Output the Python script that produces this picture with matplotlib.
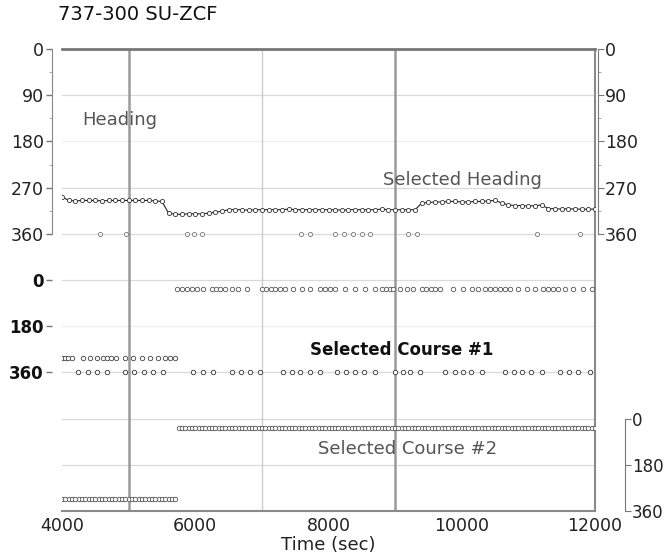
import numpy as np
import matplotlib
matplotlib.use('Agg')
import matplotlib.pyplot as plt

# ---- data (time in sec, angles in deg) ----
heading_t = list(range(4000, 12001, 100))
heading = [288,
           295, 296, 295, 295, 295, 296, 295, 295, 295, 295, 295, 295, 295, 296,
           297, 320,
           322, 322, 321, 321, 321, 320, 318, 316,
           313, 313, 313, 314, 313, 313, 313, 313, 313, 312, 313, 313, 313, 313, 313,
           313, 313, 314, 313, 313, 313, 313, 313, 312, 313, 313, 313, 313, 313,
           300, 299, 298, 298, 297, 297, 298, 298, 297, 297, 296, 295,
           300, 304, 305, 305, 306, 305, 304,
           311, 311, 312, 311, 312, 312, 312, 312]

# isolated heading samples at 360
hdg360_t = [4570, 4960, 5880, 5980, 6100, 7590, 7720, 8100, 8230, 8370, 8500,
            8620, 9190, 9330, 11130, 11780]

# selected course #1
crs1_hi_t = [5730, 5800, 5880, 5950, 6030, 6120, 6250, 6310, 6370, 6450,
             6550, 6640, 6780, 7000, 7060, 7140, 7200, 7270, 7350, 7470, 7600,
             7720, 7870, 7950, 8020, 8100, 8250, 8400, 8550, 8700, 8800, 8860,
             8920, 8970, 9070, 9180, 9270, 9400, 9460, 9540, 9600, 9670, 9870,
             10020, 10150, 10240, 10350, 10420, 10500, 10570, 10650, 10720,
             10840, 10980, 11100, 11220, 11300, 11370, 11450, 11550, 11670,
             11820, 11960]
crs1_hi = 36
crs1_mid_t = [4000, 4050, 4090, 4150, 4320, 4420, 4530, 4620, 4680, 4740,
              4810, 4950, 5070, 5200, 5320, 5440, 5550, 5620, 5700]
crs1_mid = 302
crs1_low_t = [4240, 4390, 4530, 4680, 4950, 5080, 5230, 5370, 5520, 5970,
              6120, 6270, 6550, 6690, 6820, 6970, 7320, 7450, 7570, 7720, 7870,
              8130, 8260, 8400, 8530, 8700, 9000, 9120, 9220, 9370, 9750, 9900,
              10020, 10140, 10300, 10650, 10780, 10900, 11040, 11200, 11470,
              11610, 11750, 11920]
crs1_low = 360

# selected course #2 (sampled every 50 s)
crs2_a_t = np.arange(4000, 5701, 50)
crs2_a = 312
crs2_b_t = np.arange(5750, 12001, 50)
crs2_b = 36


def hdg_y(d):
    return np.asarray(d) / 90.0


def crs1_y(d):
    return 5 + np.asarray(d) / 180.0


def crs2_y(d):
    return 8 + np.asarray(d) / 180.0


plt.rcParams['font.family'] = 'DejaVu Sans'
fig = plt.figure(figsize=(6.7, 5.56), dpi=100)
ax = fig.add_axes([62 / 670, 1 - 511 / 556, (595 - 62) / 670, (511 - 49) / 556])
ax.set_xlim(4000, 12000)
ax.set_ylim(10, 0)

# grid
for yv in [1, 3, 4, 5, 7, 8, 9]:
    ax.axhline(yv, color='#dadada', lw=0.9, zorder=0)
for yv in [2, 6]:
    ax.axhline(yv, color='#efefef', lw=0.9, zorder=0)
ax.axvline(7000, color='#cccccc', lw=1.0, zorder=0)
for xv in [5000, 9000]:
    ax.axvline(xv, color='#9a9a9a', lw=1.8, zorder=0)

# heading
ax.plot(heading_t, hdg_y(heading), color='#222222', lw=0.8, marker='o', ms=3,
        mfc='white', mec='#333333', mew=0.6, zorder=3)
ax.plot(hdg360_t, hdg_y([360] * len(hdg360_t)), ls='none', marker='o', ms=3,
        mfc='white', mec='#777777', mew=0.6, zorder=3)

# course 1
mk = dict(ls='none', marker='o', ms=3.2, mfc='white', mew=0.6, zorder=3)
ax.plot(crs1_hi_t, crs1_y([crs1_hi] * len(crs1_hi_t)), mec='#555555', **mk)
ax.plot(crs1_mid_t, crs1_y([crs1_mid] * len(crs1_mid_t)), mec='#444444', **mk)
ax.plot(crs1_low_t, crs1_y([crs1_low] * len(crs1_low_t)), mec='#333333', **mk)

# course 2
ax.plot(crs2_a_t, crs2_y([crs2_a] * len(crs2_a_t)), mec='#555555', **mk)
ax.plot(crs2_b_t, crs2_y([crs2_b] * len(crs2_b_t)), mec='#555555', **mk)

# labels inside plot
ax.text(4300, 1.54, 'Heading', fontsize=13, color='#555555', va='center')
ax.text(8820, 2.84, 'Selected Heading', fontsize=13, color='#555555', va='center')
ax.text(7720, 6.52, 'Selected Course #1', fontsize=12, fontweight='bold',
        color='#111111', va='center')
ax.text(7840, 8.66, 'Selected Course #2', fontsize=13, color='#555555', va='center')

# frame
for s in ['top', 'right', 'bottom']:
    ax.spines[s].set_color('#8a8a8a')
    ax.spines[s].set_linewidth(1.5)
ax.spines['top'].set_color('#777777')
ax.spines['top'].set_linewidth(2)
ax.spines['left'].set_position(('outward', 7.2))
ax.spines['left'].set_bounds(0, 4)
ax.spines['left'].set_color('#888888')

# x axis
ax.set_xticks([4000, 6000, 8000, 10000, 12000])
ax.tick_params(axis='x', length=0, labelsize=12.5, labelcolor='#222222', pad=4)
ax.set_xlabel('Time (sec)', fontsize=13, color='#222222', labelpad=1)

# left axis (heading + course #1)
ax.set_yticks([0, 1, 2, 3, 4, 5, 6, 7])
ax.set_yticklabels(['0', '90', '180', '270', '360', '0', '180', '360'])
ax.set_yticks([0.5, 1.5, 2.5, 3.5], minor=True)
ax.tick_params(axis='y', which='major', length=4, width=1, color='#777777',
               labelsize=12.5, labelcolor='#222222', pad=2)
ax.tick_params(axis='y', which='minor', length=2.5, color='#999999')
for i, lab in enumerate(ax.get_yticklabels()):
    if i >= 5:
        lab.set_fontweight('bold')
        lab.set_fontsize(12)
        lab.set_color('#111111')

# right axis (heading)
axr = ax.twinx()
axr.set_ylim(10, 0)
for s in ['top', 'left', 'bottom']:
    axr.spines[s].set_visible(False)
axr.spines['right'].set_position(('outward', 2.2))
axr.spines['right'].set_bounds(0, 4)
axr.spines['right'].set_color('#777777')
axr.set_yticks([0, 1, 2, 3, 4])
axr.set_yticklabels(['0', '90', '180', '270', '360'])
axr.set_yticks([0.5, 1.5, 2.5, 3.5], minor=True)
axr.tick_params(axis='y', which='major', length=4, color='#777777',
                labelsize=12.5, labelcolor='#222222', pad=1)
axr.tick_params(axis='y', which='minor', length=2.5, color='#999999')

# bottom right axis (course #2)
axr2 = ax.twinx()
axr2.set_ylim(10, 0)
for s in ['top', 'left', 'bottom']:
    axr2.spines[s].set_visible(False)
axr2.spines['right'].set_position(('outward', 21.6))
axr2.spines['right'].set_bounds(8, 10)
axr2.spines['right'].set_color('#777777')
axr2.set_yticks([8, 9, 10])
axr2.set_yticklabels(['0', '180', '360'])
axr2.tick_params(axis='y', length=4, color='#777777', labelsize=12,
                 labelcolor='#222222', pad=1)

fig.text(58 / 670, 1 - 14 / 556, '737-300 SU-ZCF', fontsize=14,
         color='#111111', va='center', ha='left')

fig.savefig('out.png', dpi=100)
